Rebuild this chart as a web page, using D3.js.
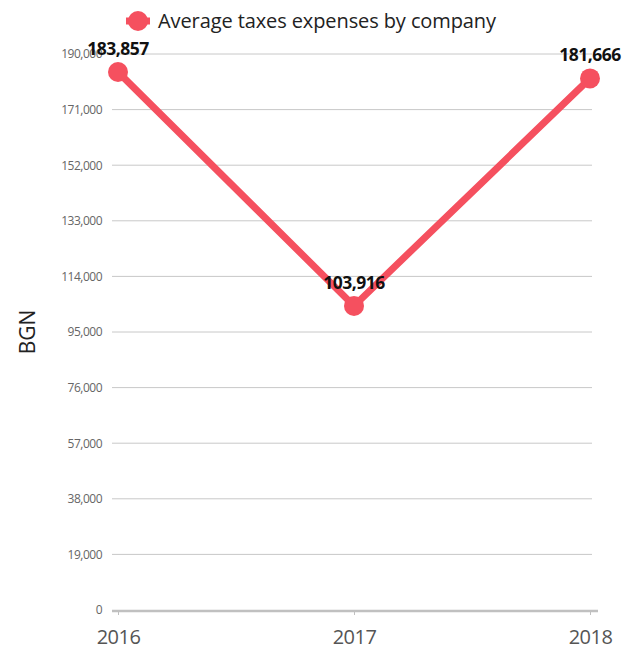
<!DOCTYPE html>
<html><head><meta charset="utf-8">
<script src="https://cdn.jsdelivr.net/npm/d3@7"></script>
<style>body{margin:0;background:#fff;font-family:"Open Sans",sans-serif;}</style>
</head><body><svg id="c" width="637" height="654"></svg>
<script>
const years = ["2016","2017","2018"];
const values = [183857,103916,181666];
const yTicks = [0,19000,38000,57000,76000,95000,114000,133000,152000,171000,190000];
const seriesName = "Average taxes expenses by company";
const yLabel = "BGN";
const color = "#f5505f";

const svg = d3.select("#c");
const x = d3.scalePoint().domain(years).range([118,590]);
const y = d3.scaleLinear().domain([0,190000]).range([610,54]);

// gridlines
svg.append("g").selectAll("line").data(yTicks.filter(d=>d>0)).join("line")
  .attr("x1",112).attr("x2",592).attr("y1",d=>y(d)).attr("y2",d=>y(d))
  .attr("stroke","#c8c8c8").attr("stroke-width",1);

// y axis labels
const ya = svg.append("g").attr("transform","translate(102,0)")
  .call(d3.axisLeft(y).tickValues(yTicks).tickSize(0).tickPadding(0).tickFormat(d3.format(",")));
ya.select(".domain").remove();
ya.selectAll("text").attr("font-family","Open Sans").attr("font-size",12).attr("fill","#666").attr("letter-spacing","-0.5");

// x axis
svg.append("line").attr("x1",112).attr("x2",598).attr("y1",611).attr("y2",611).attr("stroke","#c0c0c0").attr("stroke-width",2.5);
const xa = svg.append("g").attr("transform","translate(0,611)")
  .call(d3.axisBottom(x).tickSize(4).tickPadding(15));
xa.select(".domain").remove();
xa.selectAll("line").attr("stroke","#c0c0c0");
xa.selectAll("text").attr("font-family","Open Sans").attr("font-size",20).attr("fill","#555").attr("letter-spacing","-0.5");

// y label
svg.append("text").attr("transform","translate(35,332) rotate(-90)").attr("text-anchor","middle")
  .attr("font-family","Open Sans").attr("font-size",21).attr("fill","#222").text(yLabel);

// line
const data = years.map((yr,i)=>({yr,v:values[i]}));
svg.append("path").datum(data)
  .attr("d",d3.line().x(d=>x(d.yr)).y(d=>y(d.v)))
  .attr("fill","none").attr("stroke",color).attr("stroke-width",7).attr("stroke-linejoin","miter");
svg.append("g").selectAll("circle").data(data).join("circle")
  .attr("cx",d=>x(d.yr)).attr("cy",d=>y(d.v)).attr("r",10).attr("fill",color);

// data labels
svg.append("g").selectAll("text").data(data).join("text")
  .attr("x",d=>x(d.yr)).attr("y",d=>y(d.v)-17).attr("text-anchor","middle")
  .attr("font-family","Open Sans").attr("font-weight","bold").attr("font-size",17.5).attr("fill","#111")
  .attr("letter-spacing","-0.5")
  .text(d=>d3.format(",")(d.v));

// legend
const lg = svg.append("g").attr("transform","translate(138,21)");
lg.append("line").attr("x1",-12).attr("x2",12).attr("stroke",color).attr("stroke-width",7);
lg.append("circle").attr("r",10).attr("fill",color);
lg.append("text").attr("x",20).attr("y",7).attr("font-family","Open Sans").attr("font-size",20).attr("fill","#222")
  .attr("letter-spacing","-0.1").text(seriesName);
</script></body></html>
